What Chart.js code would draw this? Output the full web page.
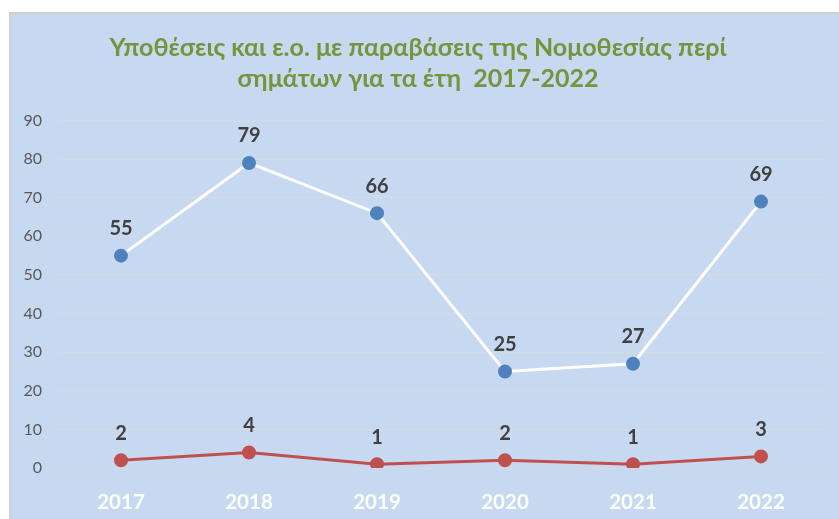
<!DOCTYPE html>
<html>
<head>
<meta charset="utf-8">
<script src="https://cdn.jsdelivr.net/npm/chart.js@4"></script>
<style>
  html, body { margin: 0; padding: 0; background: #fff; }
  #box {
    position: absolute; left: 9px; top: 12px;
    width: 828px; height: 505px;
    border-top: 2px solid #d0d0d0; border-left: 2px solid #d0d0d0;
    background: #c6d9f1;
  }
  canvas { display: block; }
</style>
</head>
<body>
<div id="box"><canvas id="grafico" width="828" height="505"></canvas></div>
<script>
const anos = ['2017', '2018', '2019', '2020', '2021', '2022'];
const ypotheseis = [55, 79, 66, 25, 27, 69];
const paraveseis = [2, 4, 1, 2, 1, 3];
const yTicks = [0, 10, 20, 30, 40, 50, 60, 70, 80, 90];

const titlos = ['Υποθέσεις και ε.ο. με παραβάσεις της Νομοθεσίας περί', 'σημάτων για τα έτη  2017-2022'];

// labels above points
const etiketes = {
    id: 'etiketes',
    afterDatasetsDraw(chart) {
        const ctx = chart.ctx;
        ctx.save();
        ctx.font = 'bold 20px Lato';
        ctx.fillStyle = '#404040';
        ctx.textAlign = 'center';
        ctx.textBaseline = 'middle';
        chart.data.datasets.forEach((ds, i) => {
            chart.getDatasetMeta(i).data.forEach((pt, j) => {
                ctx.fillText(ds.data[j], pt.x, pt.y - 27);
            });
        });
        ctx.restore();
    }
};

new Chart(document.getElementById('grafico'), {
    type: 'line',
    data: {
        labels: anos,
        datasets: [{
            data: ypotheseis,
            borderColor: '#ffffff',
            borderWidth: 3,
            pointBackgroundColor: '#4f81bd',
            pointBorderColor: '#4f81bd',
            pointRadius: 5.5,
            tension: 0
        }, {
            data: paraveseis,
            borderColor: '#c0504d',
            borderWidth: 3,
            pointBackgroundColor: '#c0504d',
            pointBorderColor: '#c0504d',
            pointRadius: 5.5,
            tension: 0
        }]
    },
    options: {
        responsive: false,
        animation: false,
        layout: { padding: { left: 0, right: 14, top: 0, bottom: 6 } },
        plugins: {
            legend: { display: false },
            tooltip: { enabled: false },
            title: {
                display: true,
                text: titlos,
                color: '#77933c',
                font: { family: 'Lato', size: 25, weight: 'bold', lineHeight: 1.25 },
                padding: { top: 18, bottom: 26 }
            }
        },
        scales: {
            x: {
                offset: true,
                afterFit(s) { s.height = 45; },
                grid: { display: false },
                border: { display: false },
                ticks: { color: '#ffffff', font: { family: 'Lato', size: 20.5, weight: 'bold' }, padding: 14 }
            },
            y: {
                min: 0, max: 90,
                afterFit(s) { s.width = 46; },
                afterBuildTicks(s) { s.ticks = yTicks.map(v => ({ value: v })); },
                grid: { color: '#d6d9dd', lineWidth: 1, drawTicks: false },
                border: { display: false },
                ticks: { color: '#595959', font: { family: 'Lato', size: 16 }, padding: 15 }
            }
        }
    },
    plugins: [etiketes]
});
</script>
</body>
</html>
